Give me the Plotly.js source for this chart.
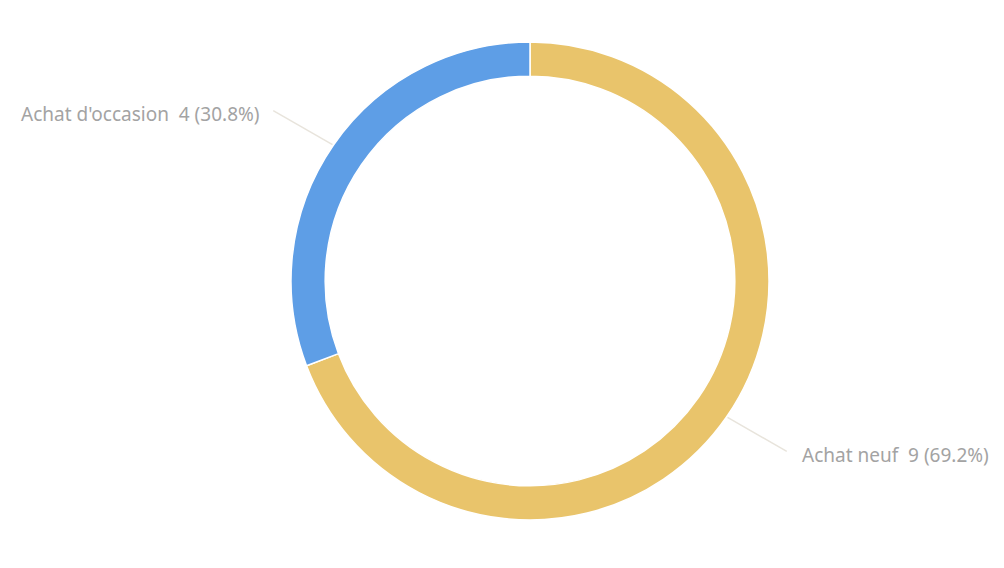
<!DOCTYPE html>
<html>
<head>
<meta charset="utf-8">
<script src="https://cdn.plot.ly/plotly-3.0.1.min.js"></script>
<style>
  html, body { margin: 0; padding: 0; background: #fff; }
  #chart { width: 1004px; height: 568px; }
</style>
</head>
<body>
<div id="chart"></div>
<script>
// purchase type split
const labels = ['Achat neuf', "Achat d'occasion"];
const values = [9, 4];
const colors = ['#E9C46B', '#5E9EE6'];

const W = 1004, H = 568;
const cx = 530, cy = 281, R = 239;   // ring centre / outer radius in px

const total = values.reduce((a, b) => a + b, 0);

// leader lines + labels, placed at each slice's mid angle (clockwise from 12 o'clock)
let shapes = [];
let annotations = [];
let acc = 0;
for (let i = 0; i < values.length; i++) {
  let mid = (acc + values[i] / 2) / total * 2 * Math.PI;
  acc += values[i];
  let dx = Math.sin(mid), dy = -Math.cos(mid);
  let x0 = cx + dx * (R + 1), y0 = cy + dy * (R + 1);
  // the leader lines are a bit flatter than the radius
  let x1 = cx + dx * 312, y1 = cy + dy * 300;
  let right = dx >= 0;
  shapes.push({
    type: 'line', xref: 'paper', yref: 'paper',
    x0: x0 / W, y0: 1 - y0 / H, x1: x1 / W, y1: 1 - y1 / H,
    line: {color: '#e8e4dc', width: 1.5}
  });
  let pct = (values[i] / total * 100).toFixed(1);
  annotations.push({
    xref: 'paper', yref: 'paper',
    x: (x1 + (right ? 13 : -11)) / W,
    y: 1 - (y1 + 3.5) / H,
    xanchor: right ? 'left' : 'right',
    yanchor: 'middle',
    showarrow: false,
    text: labels[i] + '&nbsp;&nbsp;' + values[i] + ' (' + pct + '%)',
    font: {family: 'Noto Sans, sans-serif', size: 19, color: '#a3a3a3'}
  });
}

let data = [{
  type: 'pie',
  labels: labels,
  values: values,
  sort: false,
  direction: 'clockwise',
  rotation: 0,
  hole: 0.857,
  textinfo: 'none',
  marker: {colors: colors, line: {color: '#ffffff', width: 1.5}},
  domain: {
    x: [(cx - R) / W, (cx + R) / W],
    y: [1 - (cy + R) / H, 1 - (cy - R) / H]
  },
  hoverinfo: 'label+value+percent'
}];

let layout = {
  width: W,
  height: H,
  margin: {l: 0, r: 0, t: 0, b: 0},
  showlegend: false,
  paper_bgcolor: '#ffffff',
  shapes: shapes,
  annotations: annotations
};

Plotly.newPlot('chart', data, layout, {displayModeBar: false, responsive: false});
</script>
</body>
</html>
